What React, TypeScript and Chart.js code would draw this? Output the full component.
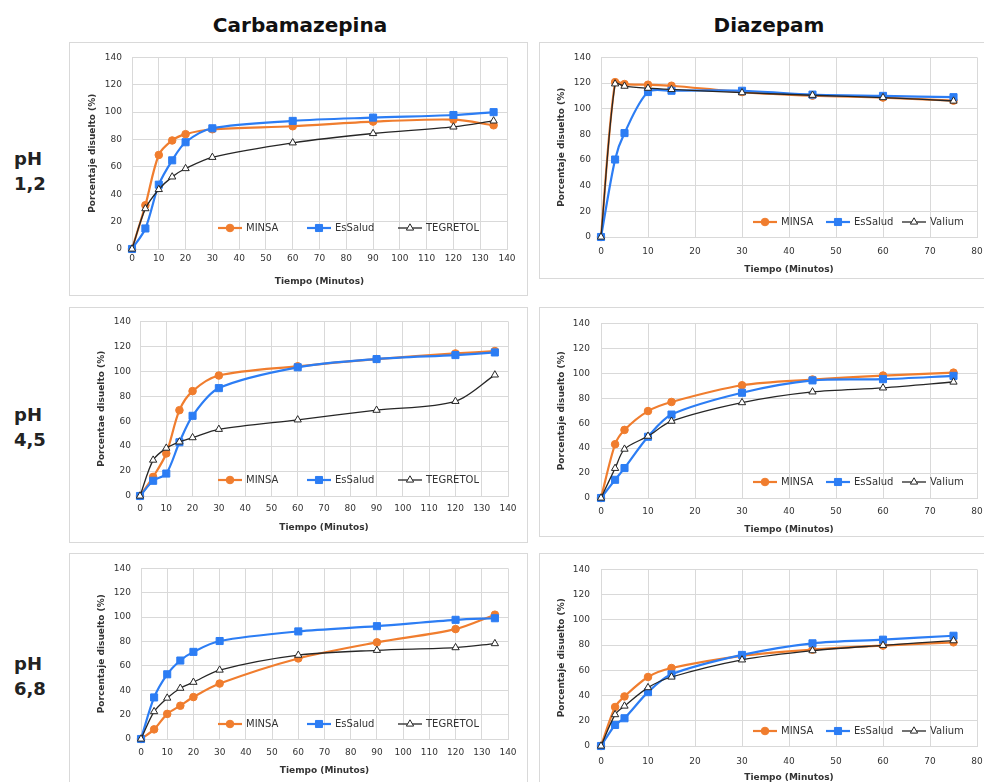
import React, { useEffect, useRef } from 'react';
import { Chart, registerables } from 'chart.js';
Chart.register(...registerables);

// ---------- data ----------
const carbTimes = [0, 5, 10, 15, 20, 30, 60, 90, 120, 135];
const diazTimes = [0, 3, 5, 10, 15, 30, 45, 60, 75];

const carbNames = ['MINSA', 'EsSalud', 'TEGRETOL'];
const diazNames = ['MINSA', 'EsSalud', 'Valium'];

const carbXTicks = [0, 10, 20, 30, 40, 50, 60, 70, 80, 90, 100, 110, 120, 130, 140];
const diazXTicks = [0, 10, 20, 30, 40, 50, 60, 70, 80];
const yTicks = [0, 20, 40, 60, 80, 100, 120, 140];

const carbPh12Minsa = [0, 32, 68.7, 79.3, 83.9, 87.5, 89.7, 93.1, 94.5, 90.4];
const carbPh12EsSalud = [0, 15, 47, 64.8, 78, 88.2, 93.6, 96, 97.9, 100];
const carbPh12Tegretol = [0, 29.5, 43.5, 52.7, 58.8, 67, 77.6, 84.4, 89.2, 93.6];

const diazPh12Minsa = [0, 120.7, 119.2, 118.7, 117.9, 113, 110.2, 108.7, 106.3];
const diazPh12EsSalud = [0, 60.4, 81, 113, 114, 114, 111, 110, 109];
const diazPh12Valium = [0, 119.4, 117.6, 116, 115, 112.5, 110.5, 108.7, 106];

const carbPh45Minsa = [0, 15.3, 34.1, 68.8, 84.1, 96.6, 104, 109.8, 114.3, 116.2];
const carbPh45EsSalud = [0, 12.2, 18, 43.1, 64.3, 86.5, 103.2, 109.8, 113, 115.1];
const carbPh45Tegretol = [0, 28.8, 38.4, 43.4, 46.8, 53.5, 61.1, 68.8, 75.9, 97.1];

const diazPh45Minsa = [0, 43.1, 54.6, 69.7, 77, 90.4, 95, 98.2, 100.5];
const diazPh45EsSalud = [0, 14.6, 24, 49.1, 66.9, 84.4, 94.3, 95.3, 97.9];
const diazPh45Valium = [0, 23.8, 39.2, 49.6, 61.6, 76.5, 85.1, 88.3, 93];

const carbPh68Minsa = [0, 7.9, 20.6, 27.3, 34.4, 45.5, 66.1, 79.3, 90.2, 102];
const carbPh68EsSalud = [0, 34.1, 53.1, 64.4, 71.5, 80.4, 88.3, 92.6, 97.8, 99.1];
const carbPh68Tegretol = [0, 22.5, 33.6, 41.7, 46.6, 56.6, 68.8, 72.8, 75, 78.3];

const diazPh68Minsa = [0, 30.9, 39.3, 54.7, 61.8, 71.5, 76.4, 79.6, 82.2];
const diazPh68EsSalud = [0, 16.7, 22, 42.7, 56.8, 72.2, 81.4, 84.3, 87.4];
const diazPh68Valium = [0, 24.9, 31.7, 46.3, 54.7, 68.3, 75.6, 79.8, 83.5];

const columnTitles = ['Carbamazepina', 'Diazepam'];
const phLabels = [['pH', '1,2'], ['pH', '4,5'], ['pH', '6,8']];
const xTitle = 'Tiempo (Minutos)';

// ---------- styles ----------
const ORANGE = '#F07D2E';
const BLUE = '#2C7DF4';
const BLACK = '#262626';
const GRID = '#d9d9d9';
const TEXT = '#333333';
const FONT = "'DejaVu Sans', Verdana, sans-serif";

type Panel = {
  box: { l: number; t: number; w: number; h: number };
  area: { left: number; right: number; top: number; bottom: number };
  yTitleX: number;
  xTitleY: number;
  xTickPad: number;
  yTickPad: number;
  legendY: number;
  legendXs: number[];
  yTitle: string;
  times: number[];
  xTicks: number[];
  names: string[];
  series: number[][];
};

const panels: Panel[] = [
  {
    box: { l: 69, t: 42, w: 459, h: 254 },
    area: { left: 132, right: 507, top: 56, bottom: 249 },
    yTitleX: 92.5, xTitleY: 282, xTickPad: 4, yTickPad: 10,
    legendY: 228, legendXs: [218, 307, 398],
    yTitle: 'Porcentaje disuelto (%)',
    times: carbTimes, xTicks: carbXTicks, names: carbNames,
    series: [carbPh12Minsa, carbPh12EsSalud, carbPh12Tegretol],
  },
  {
    box: { l: 539, t: 42, w: 480, h: 237 },
    area: { left: 601, right: 977, top: 55, bottom: 237 },
    yTitleX: 562, xTitleY: 269.5, xTickPad: 9.3, yTickPad: 10,
    legendY: 222, legendXs: [753, 826, 902],
    yTitle: 'Porcentaje disuelto (%)',
    times: diazTimes, xTicks: diazXTicks, names: diazNames,
    series: [diazPh12Minsa, diazPh12EsSalud, diazPh12Valium],
  },
  {
    box: { l: 69, t: 307, w: 459, h: 236 },
    area: { left: 140, right: 508, top: 320, bottom: 496 },
    yTitleX: 101.7, xTitleY: 528, xTickPad: 7.6, yTickPad: 9,
    legendY: 480, legendXs: [218, 307, 398],
    yTitle: 'Porcentae disuelto (%)',
    times: carbTimes, xTicks: carbXTicks, names: carbNames,
    series: [carbPh45Minsa, carbPh45EsSalud, carbPh45Tegretol],
  },
  {
    box: { l: 539, t: 307, w: 480, h: 230 },
    area: { left: 601, right: 977, top: 319, bottom: 498 },
    yTitleX: 562, xTitleY: 530, xTickPad: 8.6, yTickPad: 11,
    legendY: 482, legendXs: [753, 826, 902],
    yTitle: 'Porcentaje disuelto (%)',
    times: diazTimes, xTicks: diazXTicks, names: diazNames,
    series: [diazPh45Minsa, diazPh45EsSalud, diazPh45Valium],
  },
  {
    box: { l: 69, t: 553, w: 459, h: 260 },
    area: { left: 141, right: 508, top: 567, bottom: 739 },
    yTitleX: 101.7, xTitleY: 771, xTickPad: 8.6, yTickPad: 10,
    legendY: 724, legendXs: [218, 307, 398],
    yTitle: 'Porcentaje disuelto (%)',
    times: carbTimes, xTicks: carbXTicks, names: carbNames,
    series: [carbPh68Minsa, carbPh68EsSalud, carbPh68Tegretol],
  },
  {
    box: { l: 539, t: 553, w: 480, h: 260 },
    area: { left: 601, right: 977, top: 567, bottom: 746 },
    yTitleX: 562, xTitleY: 778, xTickPad: 10.6, yTickPad: 11,
    legendY: 731, legendXs: [753, 826, 902],
    yTitle: 'Porcentaje disuelto (%)',
    times: diazTimes, xTicks: diazXTicks, names: diazNames,
    series: [diazPh68Minsa, diazPh68EsSalud, diazPh68Valium],
  },
];

const seriesStyle = [
  { color: ORANGE, width: 2.2, point: 'circle', radius: 3.8, fill: ORANGE, order: 3 },
  { color: BLUE, width: 2.2, point: 'rect', radius: 5, fill: BLUE, order: 2 },
  { color: BLACK, width: 1.3, point: 'triangle', radius: 4.2, fill: '#ffffff', order: 1 },
];

function drawMarker(ctx: CanvasRenderingContext2D, kind: string, x: number, y: number, r: number, fill: string, stroke: string) {
  ctx.save();
  ctx.beginPath();
  if (kind === 'circle') {
    ctx.arc(x, y, r, 0, Math.PI * 2);
  } else if (kind === 'rect') {
    const s = r * Math.SQRT1_2;
    ctx.rect(x - s, y - s, 2 * s, 2 * s);
  } else {
    for (let k = 0; k < 3; k++) {
      const a = (k * 2 * Math.PI) / 3;
      const px = x + Math.sin(a) * r;
      const py = y - Math.cos(a) * r;
      if (k === 0) ctx.moveTo(px, py); else ctx.lineTo(px, py);
    }
    ctx.closePath();
  }
  ctx.fillStyle = fill;
  ctx.fill();
  ctx.lineWidth = 1;
  ctx.strokeStyle = stroke;
  ctx.stroke();
  ctx.restore();
}

function PanelChart({ p }: { p: Panel }) {
  const ref = useRef<HTMLCanvasElement | null>(null);
  useEffect(() => {
    if (!ref.current) return;
    const lh = 9 * 1.2;
    const yAxisLeft = p.yTitleX - lh / 2;
    const yAxisWidth = p.area.left - yAxisLeft;
    const xAxisBottom = p.xTitleY + lh / 2;
    const xAxisHeight = xAxisBottom - p.area.bottom;
    const padding = {
      left: yAxisLeft - p.box.l,
      right: p.box.l + p.box.w - p.area.right,
      top: p.area.top - p.box.t,
      bottom: p.box.t + p.box.h - xAxisBottom,
    };
    const legendPlugin = {
      id: 'panelLegend',
      afterDraw(chart: any) {
        const ctx = chart.ctx as CanvasRenderingContext2D;
        const y = p.legendY - p.box.t;
        p.names.forEach((name, i) => {
          const st = seriesStyle[i];
          const x0 = p.legendXs[i] - p.box.l;
          ctx.save();
          ctx.strokeStyle = st.color;
          ctx.lineWidth = st.width;
          ctx.beginPath();
          ctx.moveTo(x0, y);
          ctx.lineTo(x0 + 24, y);
          ctx.stroke();
          ctx.restore();
          drawMarker(ctx, st.point, x0 + 12, y, st.radius, st.fill, st.color);
          ctx.save();
          ctx.font = `10px ${FONT}`;
          ctx.fillStyle = TEXT;
          ctx.textBaseline = 'middle';
          ctx.textAlign = 'left';
          ctx.fillText(name, x0 + 28, y + 0.5);
          ctx.restore();
        });
      },
    };
    const chart = new Chart(ref.current, {
      type: 'line',
      data: {
        datasets: p.series.map((vals, i) => {
          const st = seriesStyle[i];
          return {
            label: p.names[i],
            data: vals.map((v, k) => ({ x: p.times[k], y: v })),
            borderColor: st.color,
            backgroundColor: st.fill,
            borderWidth: st.width,
            pointStyle: st.point as any,
            pointRadius: st.radius,
            pointBorderColor: st.color,
            pointBackgroundColor: st.fill,
            pointBorderWidth: 1,
            tension: 0.3,
            fill: false,
            clip: false as any,
            order: st.order,
          };
        }),
      },
      options: {
        animation: false,
        responsive: false,
        maintainAspectRatio: false,
        devicePixelRatio: 1,
        events: [],
        layout: { padding },
        plugins: { legend: { display: false }, tooltip: { enabled: false } },
        scales: {
          x: {
            type: 'linear',
            min: p.xTicks[0],
            max: p.xTicks[p.xTicks.length - 1],
            afterBuildTicks: (s: any) => { s.ticks = p.xTicks.map((v) => ({ value: v })); },
            afterFit: (s: any) => { s.height = xAxisHeight; },
            ticks: { padding: p.xTickPad, color: TEXT, font: { family: FONT, size: 9 }, maxRotation: 0, autoSkip: false },
            grid: { color: GRID, drawTicks: false, lineWidth: 1 },
            border: { color: GRID },
            title: { display: true, text: xTitle, color: TEXT, padding: 0, font: { family: FONT, size: 9, weight: 'bold' } },
          },
          y: {
            type: 'linear',
            min: yTicks[0],
            max: yTicks[yTicks.length - 1],
            afterBuildTicks: (s: any) => { s.ticks = yTicks.map((v) => ({ value: v })); },
            afterFit: (s: any) => { s.width = yAxisWidth; },
            ticks: { padding: p.yTickPad, color: TEXT, font: { family: FONT, size: 9 } },
            grid: { color: GRID, drawTicks: false, lineWidth: 1 },
            border: { color: GRID },
            title: { display: true, text: p.yTitle, color: TEXT, padding: 0, font: { family: FONT, size: 9, weight: 'bold' } },
          },
        },
      } as any,
      plugins: [legendPlugin],
    });
    return () => chart.destroy();
  }, [p]);
  return (
    <>
      <div style={{ position: 'absolute', left: p.box.l, top: p.box.t, width: p.box.w, height: p.box.h, border: `1px solid ${GRID}`, boxSizing: 'border-box' }} />
      <canvas ref={ref} width={p.box.w} height={p.box.h} style={{ position: 'absolute', left: p.box.l, top: p.box.t, width: p.box.w, height: p.box.h }} />
    </>
  );
}

export default function App() {
  const phTops = [146, 402, 651];
  return (
    <div style={{ position: 'fixed', left: 0, top: 0, width: 984, height: 782, overflow: 'hidden', background: '#ffffff', fontFamily: FONT }}>
      <div style={{ position: 'absolute', left: 200, top: 13, width: 200, textAlign: 'center', fontSize: 20, lineHeight: '24px', fontWeight: 'bold', color: '#111' }}>{columnTitles[0]}</div>
      <div style={{ position: 'absolute', left: 669, top: 13, width: 200, textAlign: 'center', fontSize: 20, lineHeight: '24px', fontWeight: 'bold', color: '#111' }}>{columnTitles[1]}</div>
      {phLabels.map((lab, i) => (
        <div key={i} style={{ position: 'absolute', left: 14, top: phTops[i], fontSize: 18, lineHeight: '25px', fontWeight: 'bold', color: '#222' }}>
          {lab[0]}<br />{lab[1]}
        </div>
      ))}
      {panels.map((p, i) => <PanelChart key={i} p={p} />)}
    </div>
  );
}
